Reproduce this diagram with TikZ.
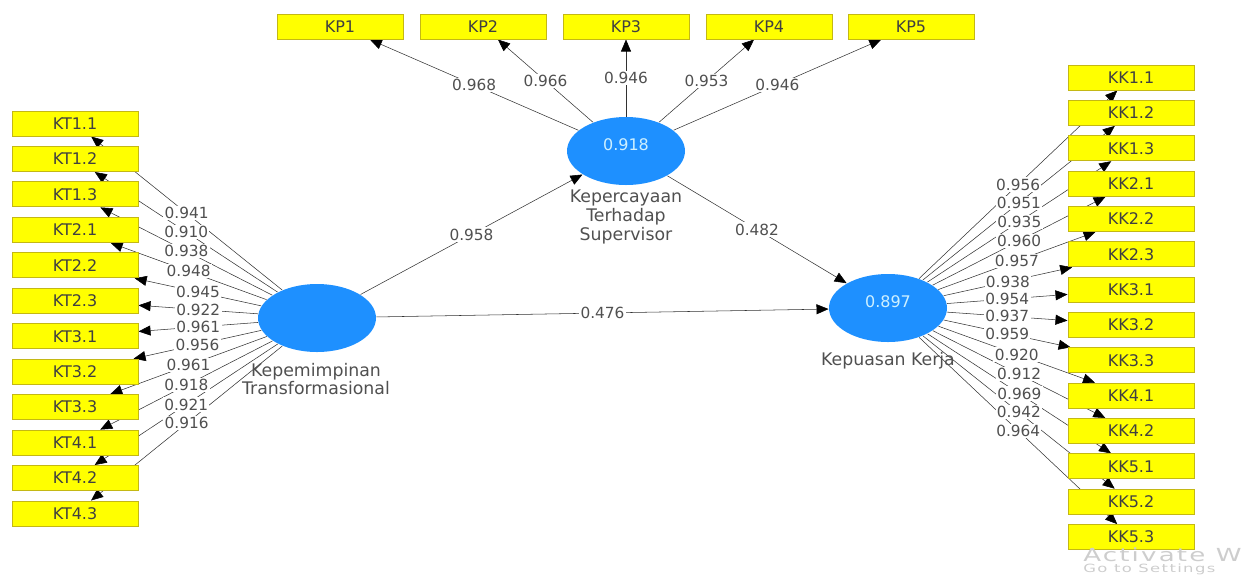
\documentclass[tikz,border=0pt]{standalone}
\usepackage{fontspec}
\setmainfont{DejaVu Sans}
\newfontfamily\wmfont[FakeStretch=1.45,LetterSpace=12]{DejaVu Sans}
\usetikzlibrary{arrows.meta,shapes.geometric}

\pgfdeclarelayer{lines}
\pgfsetlayers{lines,main}

\definecolor{boxyellow}{RGB}{255,255,0}
\definecolor{boxrim}{RGB}{196,184,20}
\definecolor{lvblue}{RGB}{30,144,255}
\definecolor{lvtext}{RGB}{205,240,255}
\definecolor{pathgray}{RGB}{50,50,50}
\definecolor{labgray}{RGB}{80,80,80}
\definecolor{wmgray}{RGB}{205,205,205}

\tikzset{every picture/.style={line width=0.75pt}}

% outer loadings, indicator/value
\def\ktloads{kt11/0.941,kt12/0.910,kt13/0.938,kt21/0.948,kt22/0.945,kt23/0.922,kt31/0.961,kt32/0.956,kt33/0.961,kt41/0.918,kt42/0.921,kt43/0.916}
\def\kploads{kp1/0.968,kp2/0.966,kp3/0.946,kp4/0.953,kp5/0.946}
\def\kkloads{kk11/0.956,kk12/0.951,kk13/0.935,kk21/0.960,kk22/0.957,kk23/0.938,kk31/0.954,kk32/0.937,kk33/0.959,kk41/0.920,kk42/0.912,kk43/0.969,kk51/0.942,kk52/0.964}

\begin{document}
\begin{tikzpicture}[x=0.75pt,y=0.75pt,yscale=-1,xscale=1,
  indicator/.style={draw=boxrim,fill=boxyellow,minimum width=94.5pt,minimum height=18.75pt,inner sep=0pt,text=black!75,font=\fontsize{12}{14}\selectfont},
  latent/.style={ellipse,fill=lvblue,minimum width=88.5pt,minimum height=51pt,inner sep=0pt},
  lvvalue/.style={text=lvtext,yshift=4.5pt,inner sep=0pt,font=\fontsize{12}{14}\selectfont},
  lvname/.style={align=center,text=labgray,inner sep=0pt,font=\fontsize{13}{14}\selectfont},
  coef/.style={fill=white,inner sep=1pt,text=labgray,font=\fontsize{11.5}{13}\selectfont},
  link/.style={draw=pathgray,-{Triangle[length=9pt,width=7.5pt,color=black]}}]
\useasboundingbox (0,0) rectangle (1243,576);

%Latent variables
\node[latent] (kt) at (317,318) {};
\node[latent,label={[lvvalue]center:0.918}] (kp) at (626,151) {};
\node[latent,label={[lvvalue]center:0.897}] (kk) at (888,308) {};

% Text Node
\node[lvname] (ktname) at (316,379) {Kepemimpinan\\Transformasional};
% Text Node
\node[lvname] (kpname) at (626,217) {Kepercayaan\\Terhadap\\Supervisor};
% Text Node
\node[lvname] (kkname) at (888,361) {Kepuasan Kerja};

%Indicators Kepercayaan Terhadap Supervisor
\node[indicator] (kp1) at (340,26.5) {KP1};
\node[indicator] (kp2) at (483,26.5) {KP2};
\node[indicator] (kp3) at (626,26.5) {KP3};
\node[indicator] (kp4) at (769,26.5) {KP4};
\node[indicator] (kp5) at (911,26.5) {KP5};

%Indicators Kepemimpinan Transformasional
\node[indicator] (kt11) at (75,123.5) {KT1.1};
\node[indicator] (kt12) at (75,159) {KT1.2};
\node[indicator] (kt13) at (75,194.4) {KT1.3};
\node[indicator] (kt21) at (75,229.9) {KT2.1};
\node[indicator] (kt22) at (75,265.3) {KT2.2};
\node[indicator] (kt23) at (75,300.8) {KT2.3};
\node[indicator] (kt31) at (75,336.2) {KT3.1};
\node[indicator] (kt32) at (75,371.7) {KT3.2};
\node[indicator] (kt33) at (75,407.1) {KT3.3};
\node[indicator] (kt41) at (75,442.6) {KT4.1};
\node[indicator] (kt42) at (75,478) {KT4.2};
\node[indicator] (kt43) at (75,513.5) {KT4.3};

%Indicators Kepuasan Kerja
\node[indicator] (kk11) at (1131,77.5) {KK1.1};
\node[indicator] (kk12) at (1131,112.9) {KK1.2};
\node[indicator] (kk13) at (1131,148.2) {KK1.3};
\node[indicator] (kk21) at (1131,183.6) {KK2.1};
\node[indicator] (kk22) at (1131,218.9) {KK2.2};
\node[indicator] (kk23) at (1131,254.3) {KK2.3};
\node[indicator] (kk31) at (1131,289.6) {KK3.1};
\node[indicator] (kk32) at (1131,325) {KK3.2};
\node[indicator] (kk33) at (1131,360.3) {KK3.3};
\node[indicator] (kk41) at (1131,395.7) {KK4.1};
\node[indicator] (kk42) at (1131,431) {KK4.2};
\node[indicator] (kk43) at (1131,466.4) {KK5.1};
\node[indicator] (kk51) at (1131,501.7) {KK5.2};
\node[indicator] (kk52) at (1131,537.1) {KK5.3};

%Straight Lines (under the boxes)
\begin{pgfonlayer}{lines}
\foreach \b/\w in \ktloads {\draw[link] (kt) -- (\b);}
\foreach \b/\w in \kploads {\draw[link] (kp) -- (\b);}
\foreach \b/\w in \kkloads {\draw[link] (kk) -- (\b);}
\draw[link] (kt) -- (kp);
\draw[link] (kp) -- (kk);
\draw[link] (kt) -- (kk);
\end{pgfonlayer}

%Path coefficients and loadings
\foreach \b/\w in \ktloads {\path (kt) -- node[coef] {\w} (\b);}
\foreach \b/\w in \kploads {\path (kp) -- node[coef] {\w} (\b);}
\foreach \b/\w in \kkloads {\path (kk) -- node[coef] {\w} (\b);}
\path (kt) -- node[coef] {0.958} (kp);
\path (kp) -- node[coef] {0.482} (kk);
\path (kt) -- node[coef] {0.476} (kk);

%Watermark
\node[anchor=base west,inner sep=0pt,text=wmgray,font=\wmfont\fontsize{13.5}{15}\selectfont] (wm1) at (1083,561) {Activate W};
\node[anchor=base west,inner sep=0pt,text=wmgray,font=\wmfont\fontsize{8.5}{10}\selectfont] (wm2) at (1083,572.5) {Go to Settings};

\end{tikzpicture}
\end{document}
